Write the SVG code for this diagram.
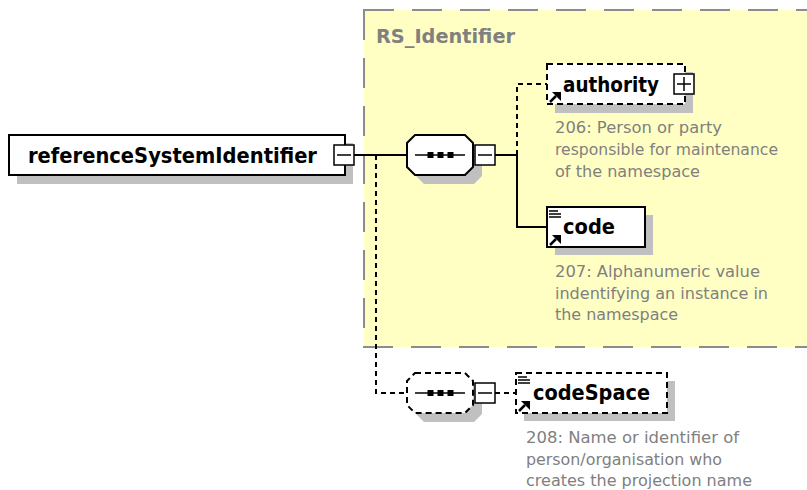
<svg xmlns="http://www.w3.org/2000/svg" width="807" height="490" viewBox="0 0 807 490">
<style>
.bg{fill:#ffffff}
.ctype{fill:#ffffc4;stroke:#8c8c8c;stroke-width:2;stroke-dasharray:30 18}
.ctitle{font-family:"DejaVu Sans","Liberation Sans",sans-serif;font-weight:bold;font-size:20px;fill:#808080}
.shadow{fill:#c0c0c0;stroke:none}
.box{fill:#ffffff;stroke:#000;stroke-width:2}
.dbox{fill:#ffffff;stroke:#000;stroke-width:2;stroke-dasharray:6 4}
.lbl{font-family:"DejaVu Sans","Liberation Sans",sans-serif;font-weight:bold;font-size:20.5px;fill:#000}
.doc{font-family:"DejaVu Sans","Liberation Sans",sans-serif;font-size:16px;fill:#808080}
.conn{fill:none;stroke:#000;stroke-width:2}
.dconn{fill:none;stroke:#000;stroke-width:2;stroke-dasharray:5 4}
.pm{fill:#ffffff;stroke:#000;stroke-width:1.5}
.sign{stroke:#000;stroke-width:1.5;fill:none}
.icon{stroke:#000;stroke-width:1.5;fill:none}
.arr{stroke:#000;stroke-width:2.5;fill:none}
.head{fill:#000;stroke:none}
</style>
<rect class="bg" x="0" y="0" width="807" height="490"/>

<g id="RS_Identifier">
  <rect class="ctype" x="364" y="10" width="470" height="337"/>
  <text class="ctitle" x="376" y="43" textLength="139" lengthAdjust="spacingAndGlyphs">RS_Identifier</text>
</g>

<g id="connectors">
  <path class="conn" d="M354,155 H407"/>
  <path class="dconn" d="M376,155 V393 H406"/>
  <path class="conn" d="M495,155 H517 V227 H547"/>
  <path class="dconn" d="M517,155 V84 H547"/>
  <path class="dconn" d="M495,393 H516"/>
</g>

<g id="referenceSystemIdentifier">
  <rect class="shadow" x="17" y="143" width="336" height="41"/>
  <rect class="box" x="9" y="135" width="336" height="40"/>
  <text class="lbl" x="28" y="163" textLength="289" lengthAdjust="spacingAndGlyphs">referenceSystemIdentifier</text>
  <rect class="pm" x="334" y="145" width="20" height="20"/>
  <path class="sign" d="M337,155 H351"/>
</g>

<g id="sequence1">
  <polygon class="shadow" points="424,144 474,144 482,152 482,176 474,184 424,184 416,176 416,152"/>
  <polygon class="box" points="415,135 465,135 473,143 473,167 465,175 415,175 407,167 407,143"/>
  <path class="sign" d="M415,155 H465"/>
  <rect class="head" x="427.5" y="152" width="6" height="6"/>
  <rect class="head" x="437.5" y="152" width="6" height="6"/>
  <rect class="head" x="447.5" y="152" width="6" height="6"/>
  <rect class="pm" x="475" y="145" width="20" height="20"/>
  <path class="sign" d="M478,155 H492"/>
</g>

<g id="authority">
  <rect class="shadow" x="555" y="72" width="138" height="41"/>
  <rect class="dbox" x="547" y="64" width="138" height="40"/>
  <text class="lbl" x="563" y="92" textLength="96" lengthAdjust="spacingAndGlyphs">authority</text>
  <path class="arr" d="M550,102 L556,96"/>
  <polygon class="head" points="552,92 561,92 561,101"/>
  <rect class="pm" x="674" y="74" width="20" height="20"/>
  <path class="sign" d="M677,84 H691 M684,77 V91"/>
  <text class="doc" x="555" y="133" textLength="167" lengthAdjust="spacingAndGlyphs">206: Person or party</text>
  <text class="doc" x="555" y="155" textLength="223" lengthAdjust="spacingAndGlyphs">responsible for maintenance</text>
  <text class="doc" x="555" y="177" textLength="145" lengthAdjust="spacingAndGlyphs">of the namespace</text>
</g>

<g id="code">
  <rect class="shadow" x="555" y="215" width="98" height="40"/>
  <rect class="box" x="547" y="207" width="98" height="40"/>
  <path class="icon" d="M549,211 H558 M549,214 H561 M549,217 H561"/>
  <text class="lbl" x="563" y="234" textLength="52" lengthAdjust="spacingAndGlyphs">code</text>
  <path class="arr" d="M550,245 L556,239"/>
  <polygon class="head" points="552,235 561,235 561,244"/>
  <text class="doc" x="555" y="277" textLength="205" lengthAdjust="spacingAndGlyphs">207: Alphanumeric value</text>
  <text class="doc" x="555" y="298.5" textLength="213" lengthAdjust="spacingAndGlyphs">indentifying an instance in</text>
  <text class="doc" x="555" y="320" textLength="123" lengthAdjust="spacingAndGlyphs">the namespace</text>
</g>

<g id="sequence2">
  <polygon class="shadow" points="424,382 474,382 482,390 482,414 474,422 424,422 416,414 416,390"/>
  <polygon class="dbox" points="415,373 465,373 473,381 473,405 465,413 415,413 407,405 407,381"/>
  <path class="sign" d="M415,393 H465"/>
  <rect class="head" x="427.5" y="390" width="6" height="6"/>
  <rect class="head" x="437.5" y="390" width="6" height="6"/>
  <rect class="head" x="447.5" y="390" width="6" height="6"/>
  <rect class="pm" x="475" y="383" width="20" height="20"/>
  <path class="sign" d="M478,393 H492"/>
</g>

<g id="codeSpace">
  <rect class="shadow" x="524" y="381" width="151" height="40"/>
  <rect class="dbox" x="516" y="373" width="151" height="40"/>
  <path class="icon" d="M518,377 H527 M518,380 H530 M518,383 H530"/>
  <text class="lbl" x="533" y="400" textLength="117" lengthAdjust="spacingAndGlyphs">codeSpace</text>
  <path class="arr" d="M519,411 L525,405"/>
  <polygon class="head" points="521,401 530,401 530,410"/>
  <text class="doc" x="526" y="443" textLength="213" lengthAdjust="spacingAndGlyphs">208: Name or identifier of</text>
  <text class="doc" x="526" y="464.5" textLength="196" lengthAdjust="spacingAndGlyphs">person/organisation who</text>
  <text class="doc" x="526" y="486" textLength="226" lengthAdjust="spacingAndGlyphs">creates the projection name</text>
</g>
</svg>
